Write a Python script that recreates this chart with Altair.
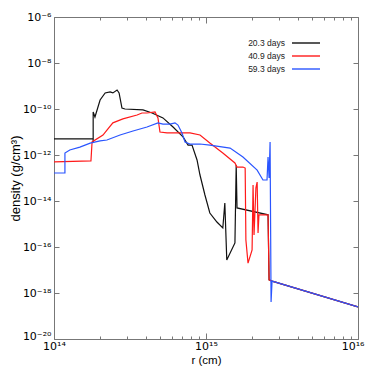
import math
import altair as alt
import pandas as pd

series = ["20.3 days", "40.9 days", "59.3 days"]
colors = ["#111111", "#ff1a1a", "#2a55ff"]

r_20 = [1.00e14, 1.81e14, 1.81e14, 1.81e14, 1.86e14, 2.01e14, 2.17e14, 2.34e14, 2.44e14, 2.60e14,
        2.68e14, 2.80e14, 2.93e14, 3.85e14, 4.42e14, 5.21e14, 6.07e14, 7.06e14, 7.62e14, 8.09e14,
        8.73e14, 9.13e14, 9.84e14, 1.06e15, 1.18e15, 1.29e15, 1.33e15, 1.37e15, 1.55e15, 1.58e15,
        1.60e15, 2.56e15, 2.60e15, 2.72e15, 1.00e16]
rho_20 = [5.0e-12, 5.0e-12, 3.7e-12, 7.4e-11, 4.5e-11, 2.46e-10, 5.0e-10, 5.5e-10, 5.0e-10, 6.7e-10,
          5.0e-10, 1.1e-10, 1.0e-10, 9.1e-11, 6.7e-11, 4.1e-11, 1.65e-11, 6.1e-12, 2.7e-12, 2.7e-12,
          6.1e-13, 1.35e-13, 1.82e-14, 3.0e-15, 1.22e-15, 6.7e-16, 8.2e-15, 2.7e-17, 1.5e-16, 3.7e-13,
          5.0e-15, 2.5e-15, 3.7e-18, 3.3e-18, 2.5e-19]

r_41 = [1.00e14, 1.75e14, 1.78e14, 2.10e14, 2.23e14, 2.44e14, 2.84e14, 3.52e14, 3.79e14, 4.09e14,
        4.62e14, 4.83e14, 4.98e14, 5.54e14, 7.85e14, 9.13e14, 1.06e15, 1.29e15, 1.55e15, 1.60e15,
        1.75e15, 1.81e15, 1.83e15, 1.89e15, 2.01e15, 2.04e15, 2.07e15, 2.13e15, 2.17e15, 2.20e15,
        2.23e15, 2.56e15, 2.60e15, 2.72e15, 1.00e16]
rho_41 = [5.0e-13, 5.5e-13, 3.7e-12, 7.4e-12, 1.22e-11, 2.5e-11, 3.7e-11, 5.5e-11, 6.7e-11, 6.7e-11,
          7.4e-11, 4.1e-11, 1.0e-11, 9.1e-12, 9.1e-12, 7.4e-12, 3.3e-12, 1.22e-12, 4.5e-13, 3.0e-13,
          3.0e-13, 2.7e-13, 2.0e-16, 2.0e-17, 7.4e-17, 5.0e-14, 3.3e-16, 3.7e-14, 6.7e-14, 4.1e-16,
          2.5e-15, 2.5e-15, 3.7e-18, 3.3e-18, 2.5e-19]

r_59 = [1.00e14, 1.18e14, 1.18e14, 1.27e14, 1.48e14, 1.73e14, 2.01e14, 2.23e14, 2.72e14, 3.31e14,
        4.09e14, 4.83e14, 5.21e14, 5.80e14, 6.25e14, 6.54e14, 6.95e14, 7.28e14, 7.85e14, 9.13e14,
        1.06e15, 1.44e15, 1.75e15, 2.17e15, 2.37e15, 2.52e15, 2.56e15, 2.60e15, 2.64e15, 2.68e15,
        2.72e15, 1.00e16]
rho_59 = [1.65e-13, 1.65e-13, 1.22e-12, 1.65e-12, 2.2e-12, 3.3e-12, 4.1e-12, 4.5e-12, 7.4e-12, 1.1e-11,
          1.65e-11, 2.5e-11, 2.2e-11, 2.2e-11, 2.5e-11, 2.0e-11, 9.1e-12, 3.7e-12, 3.0e-12, 3.0e-12,
          2.7e-12, 2.0e-12, 8.2e-13, 2.2e-13, 8.2e-14, 8.2e-14, 8.2e-13, 1.0e-13, 3.7e-12, 4.1e-19,
          3.3e-18, 2.5e-19]

x_major = [1e14, 1e15, 1e16]
x_minor = [k * 10.0 ** e for e in (14, 15) for k in range(2, 10)]
y_major = [10.0 ** e for e in range(-20, -5, 2)]

rows = []
for name, rs, ds in zip(series, [r_20, r_41, r_59], [rho_20, rho_41, rho_59]):
    for i, (r, d) in enumerate(zip(rs, ds)):
        rows.append({"series": name, "r": r, "rho": d, "i": i})
df = pd.DataFrame(rows)

W, H = 304, 322
FONT = "Liberation Sans"
LFONT = "DejaVu Sans"
sup = str.maketrans("-0123456789", "⁻⁰¹²³⁴⁵⁶⁷⁸⁹")


def label_expr(vals):
    expr = "''"
    for v in vals:
        e = round(math.log10(v))
        expr = f"abs(log(datum.value)/LN10 - ({e})) < 0.01 ? '10{str(e).translate(sup)}' : (" + expr + ")"
    return expr


is_major = "abs(log(datum.value)/LN10 - round(log(datum.value)/LN10)) < 0.001"
is_last = "datum.value > 5e15"
is_bottom = "datum.value < 1e-19"

xs = alt.Scale(type="log", domain=[1e14, 1e16], nice=False)
ys = alt.Scale(type="log", domain=[1e-20, 1e-6], nice=False)

base = alt.Chart(df)

lines = base.mark_line(strokeWidth=1.2, clip=True).encode(
    x=alt.X("r:Q", scale=xs, axis=alt.Axis(
        values=x_major, labelExpr=label_expr(x_major), tickSize=0, domain=False, grid=False,
        title="r (cm)", labelFontSize=11, labelPadding=1, titleFontSize=11.5,
        titleY=24, titleBaseline="alphabetic",
        labelAlign={"condition": {"test": is_last, "value": "right"}, "value": "center"},
        labelOffset={"condition": {"test": is_last, "value": 6}, "value": 0},
        labelFont=LFONT, titleFont=FONT, titleFontWeight="normal", labelColor="#000", titleColor="#000",
        labelFlush=False)),
    y=alt.Y("rho:Q", scale=ys, axis=alt.Axis(
        values=y_major, labelExpr=label_expr(y_major), tickSize=0, domain=False, grid=False,
        title="density (g/cm³)", labelFontSize=11, labelPadding=3, titleFontSize=13,
        titleX=-35, titleY=H / 2, titleAngle=270, titleBaseline="alphabetic", titleAlign="center",
        labelOffset={"condition": {"test": is_bottom, "value": -3}, "value": 0},
        labelFont=LFONT, titleFont=FONT, titleFontWeight="normal", labelColor="#000", titleColor="#000",
        labelFlush=False)),
    color=alt.Color("series:N", scale=alt.Scale(domain=series, range=colors), legend=None),
    order="i:Q",
)

tick_size_x = {"condition": {"test": is_major, "value": 6}, "value": 3}

ticks_a = base.mark_point(opacity=0).encode(
    x=alt.X("r:Q", scale=xs, axis=alt.Axis(
        orient="top", offset=-H, values=x_major + x_minor, labels=False, tickSize=tick_size_x,
        domain=False, grid=False, title=None, tickColor="#777")),
    y=alt.Y("rho:Q", scale=ys, axis=alt.Axis(
        orient="right", offset=-W, values=y_major, labels=False, tickSize=5,
        domain=False, grid=False, title=None, tickColor="#777")),
)

ticks_b = base.mark_point(opacity=0).encode(
    x=alt.X("r:Q", scale=xs, axis=alt.Axis(
        orient="bottom", offset=-H, values=x_major + x_minor, labels=False, tickSize=tick_size_x,
        domain=False, grid=False, title=None, tickColor="#777")),
    y=alt.Y("rho:Q", scale=ys, axis=alt.Axis(
        orient="left", offset=-W, values=y_major, labels=False, tickSize=5,
        domain=False, grid=False, title=None, tickColor="#777")),
)

one = pd.DataFrame({"k": [0]})
legend_layers = []
leg_y = [26, 39, 52]
for name, col, yy in zip(series, colors, leg_y):
    legend_layers.append(
        alt.Chart(one).mark_text(align="right", baseline="middle", fontSize=8.5, font=FONT, color="#222").encode(
            x=alt.value(231), y=alt.value(yy), text=alt.value(name)))
    legend_layers.append(
        alt.Chart(one).mark_rule(color=col, strokeWidth=1.4).encode(
            x=alt.value(238), x2=alt.value(266), y=alt.value(yy)))

chart = alt.layer(lines, ticks_a, ticks_b, *legend_layers).resolve_axis(
    x="independent", y="independent"
).properties(
    width=W, height=H,
    autosize=alt.AutoSizeParams(type="none"),
    padding={"left": 46, "top": 9, "right": 8, "bottom": 27},
).configure_view(stroke="#777", strokeWidth=1)

chart.save("out.html", embed_options={"renderer": "svg", "actions": False})
